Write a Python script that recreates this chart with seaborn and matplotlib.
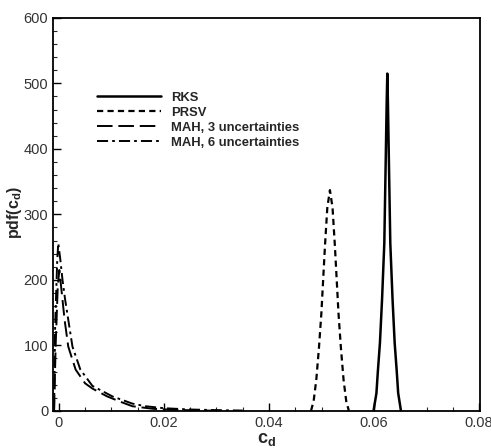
import numpy as np
import pandas as pd
import matplotlib
matplotlib.use('Agg')
import matplotlib.pyplot as plt
import seaborn as sns
from matplotlib.ticker import MultipleLocator

# Data
rks_x = [0.0599, 0.06045, 0.06072, 0.06112, 0.06152, 0.06195, 0.06222, 0.06240,
         0.06252, 0.06264, 0.06282, 0.06309, 0.06352, 0.06392, 0.06432,
         0.06459, 0.06512]
rks_y = [0, 27, 60, 104, 170, 256, 383, 470, 515, 470, 383, 256, 170, 104, 60,
         27, 0]

prsv_x = [0.0480, 0.0485, 0.0490, 0.04950, 0.04997, 0.05065, 0.05110, 0.0516,
          0.0521, 0.05255, 0.05323, 0.0537, 0.0542, 0.0547, 0.0552]
prsv_y = [0, 15, 47, 95, 149, 251, 310, 337, 310, 251, 149, 95, 47, 15, 0]

mah3_x = [-0.0009, -0.0006, -0.0002, 0.0001, 0.0005, 0.0011, 0.0018, 0.0032,
          0.0050, 0.0064, 0.0092, 0.0120, 0.0140, 0.0180, 0.0220, 0.0270, 0.0320]
mah3_y = [0, 100, 190, 215, 185, 139, 98, 63, 42, 34, 22, 13, 7, 3, 1.5, 0.5, 0]

mah6_x = [-0.0009, -0.0007, -0.0003, -0.0001, 0.0003, 0.0007, 0.0012, 0.0018,
          0.0026, 0.0041, 0.0064, 0.0102, 0.0140, 0.0165, 0.0200, 0.0250,
          0.0300, 0.0350]
mah6_y = [0, 130, 230, 256, 230, 200, 170, 139, 98, 63, 38, 22, 11, 7, 4, 2,
          1, 0.4]

labels = ['RKS', 'PRSV', 'MAH, 3 uncertainties', 'MAH, 6 uncertainties']

sns.set_style('ticks')
plt.rcParams['font.family'] = ['Liberation Sans', 'DejaVu Sans']
plt.rcParams['mathtext.fontset'] = 'custom'
plt.rcParams['mathtext.rm'] = 'Liberation Sans'
plt.rcParams['mathtext.bf'] = 'Liberation Sans:bold'

fig = plt.figure(figsize=(4.91, 4.48), dpi=100)
ax = fig.add_axes([0.108, 0.083, 0.870, 0.877])

sns.lineplot(x=rks_x, y=rks_y, ax=ax, color='black', lw=1.8,
             linestyle='-', label=labels[0])
sns.lineplot(x=prsv_x, y=prsv_y, ax=ax, color='black', lw=1.6,
             linestyle=(0, (2.8, 1.9)), label=labels[1])
sns.lineplot(x=mah3_x, y=mah3_y, ax=ax, color='black', lw=1.4,
             linestyle=(0, (8, 3)), label=labels[2])
sns.lineplot(x=mah6_x, y=mah6_y, ax=ax, color='black', lw=1.4,
             linestyle=(0, (5.7, 2.1, 1.4, 2.1)), label=labels[3])

ax.set_xlim(-0.0011, 0.0802)
ax.set_ylim(0, 600)
ax.xaxis.set_minor_locator(MultipleLocator(0.005))
ax.yaxis.set_major_locator(MultipleLocator(100))
ax.yaxis.set_minor_locator(MultipleLocator(20))
ax.set_xticks([0, 0.02, 0.04, 0.06, 0.08])
ax.set_xticklabels(['0', '0.02', '0.04', '0.06', '0.08'])
ax.tick_params(which='major', direction='in', length=6, width=1,
               labelsize=10.5, colors='black', labelcolor='#333333')
ax.tick_params(which='minor', direction='in', length=3, width=0.8)
for s in ax.spines.values():
    s.set_linewidth(1.3)
    s.set_color('black')

ax.set_xlabel(r'$\mathbf{c_d}$', fontsize=13, labelpad=1)
ax.set_ylabel(r'$\mathbf{pdf(c_d)}$', fontsize=11.5)
ax.yaxis.set_label_coords(-0.067, 0.504)

leg = ax.legend(loc='upper left', bbox_to_anchor=(0.075, 0.842), frameon=False,
                handlelength=4.9, labelspacing=0.22, handletextpad=0.8,
                prop={'weight': 'bold', 'size': 9.4})

fig.savefig('out.png', dpi=100)
